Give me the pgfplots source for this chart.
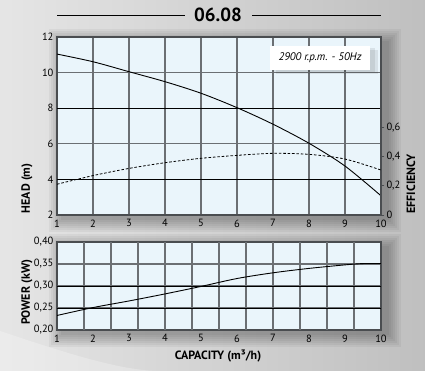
\documentclass[border=0pt]{standalone}
\usepackage{fontspec}
\setmainfont{PT Sans}
\usepackage{pgfplots}
\pgfplotsset{compat=1.18}
\definecolor{plotbg}{HTML}{EAF5FB}
\definecolor{gridgray}{HTML}{6B6F73}
\definecolor{framegray}{HTML}{4A4D50}

\pgfplotsset{
  pumpaxis/.style={
    scale only axis, width=324pt, anchor=south west,
    xmin=1, xmax=10, xtick={1,...,10},
    major tick length=0pt,
    axis line style={framegray, line width=1.4pt},
    major grid style={gridgray, line width=1.1pt},
    axis background/.style={fill=plotbg},
    tick label style={font=\fontsize{10.5}{11}\selectfont},
    label style={font=\bfseries\fontsize{12}{13}\selectfont},
    /pgf/number format/assume math mode=true,
    /pgf/number format/use comma,
  },
}

\begin{document}
\begin{tikzpicture}[x=1pt,y=1pt]
  % page background
  \shade[left color=black!10, right color=black!25] (0,0) rectangle (425,371);
  \fill[white, opacity=0.25] (0,40) .. controls (60,20) and (120,0) .. (160,0) -- (0,0) -- cycle;

  % soft drop shadows behind the two panels
  \foreach \r in {2,4,...,14} {
    \fill[black, opacity=0.045] (57-\r+6, 156-\r-3) rectangle (381+\r+6, 334+\r-6);
    \fill[black, opacity=0.045] (57-\r+6, 41-\r-3) rectangle (381+\r+6, 129+\r-6);
  }

  % title
  \node[font=\bfseries\fontsize{19}{20}\selectfont] at (218,356) {06.08};
  \draw[line width=0.8pt] (57,356) -- (185,356);
  \draw[line width=0.8pt] (252,356) -- (381,356);

  % head curve
  \begin{axis}[pumpaxis, at={(57pt,156pt)}, height=178pt,
    ymin=2, ymax=12, ytick={2,4,6,8,10,12},
    grid=major,
    extra y ticks={4,8}, extra y tick labels={},
    extra y tick style={major grid style={black, line width=0.9pt}},
    xticklabel style={yshift=-1pt},
    ylabel={HEAD (m)},
    ylabel style={at={(axis description cs:-0.093,0.15)}, anchor=center},
  ]
    \addplot[black, line width=0.9pt, smooth] coordinates {
      (1,11.04) (2,10.61) (3,10.05) (4,9.49) (5,8.84)
      (6,8.03) (7,7.10) (8,6.03) (9,4.75) (10,3.08)
    };
  \end{axis}

  % efficiency curve on the right-hand scale
  \begin{axis}[scale only axis, width=324pt, height=178pt, anchor=south west, at={(57pt,156pt)},
    xmin=1, xmax=10, ymin=0, ymax=1.2152,
    axis x line=none, axis y line*=right,
    ytick={0,0.2,0.4,0.6},
    tick align=outside, major tick length=3.5pt,
    tick style={framegray, line width=0.8pt},
    axis line style={framegray, line width=1.4pt},
    tick label style={font=\fontsize{10.5}{11}\selectfont},
    yticklabel style={xshift=-1.5pt},
    /pgf/number format/assume math mode=true,
    /pgf/number format/use comma,
    /pgf/number format/fixed, /pgf/number format/precision=1,
    ylabel={EFFICIENCY},
    ylabel style={font=\bfseries\fontsize{12}{13}\selectfont, at={(axis description cs:1.092,0.175)}, anchor=center},
  ]
    \addplot[black, line width=0.8pt, smooth, dash pattern=on 2.6pt off 1.8pt] coordinates {
      (1,0.210) (2,0.269) (3,0.318) (4,0.357) (5,0.387)
      (6,0.407) (7,0.421) (8,0.414) (9,0.382) (10,0.307)
    };
  \end{axis}

  % speed note
  \fill[black, opacity=0.08] (276,297) rectangle (378,321);
  \fill[black, opacity=0.08] (274,299) rectangle (375,323);
  \fill[white] (270,301) rectangle (370,325);
  \node[font=\itshape\fontsize{11}{12}\selectfont] at (320,313) {2900 r.p.m. - 50Hz};

  % power curve
  \begin{axis}[pumpaxis, at={(57pt,41pt)}, height=88pt,
    ymin=0.2, ymax=0.4, ytick={0.20,0.25,0.30,0.35,0.40},
    xmajorgrids=false, ymajorgrids=true,
    extra x ticks={1.75,2.5,3.25,4,4.75,5.5,6.25,7,7.75,8.5,9.25},
    extra x tick labels={},
    extra x tick style={xmajorgrids=true, major grid style={gridgray, line width=1.1pt}},
    extra y ticks={0.25,0.30}, extra y tick labels={},
    extra y tick style={major grid style={black, line width=0.9pt}},
    yticklabel style={/pgf/number format/fixed, /pgf/number format/fixed zerofill, /pgf/number format/precision=2},
    xticklabel style={yshift=-1pt},
    ylabel={POWER (kW)},
    ylabel style={at={(axis description cs:-0.093,0.43)}, anchor=center},
    xlabel={CAPACITY (m³/h)},
    xlabel style={at={(axis description cs:0.497,-0.30)}, anchor=center},
  ]
    \addplot[black, line width=0.9pt, smooth] coordinates {
      (1,0.233) (2,0.251) (3,0.266) (4,0.282) (5,0.299) (6,0.317)
      (7,0.330) (8,0.340) (9,0.348) (9.5,0.351) (10,0.351)
    };
  \end{axis}
\end{tikzpicture}
\end{document}
